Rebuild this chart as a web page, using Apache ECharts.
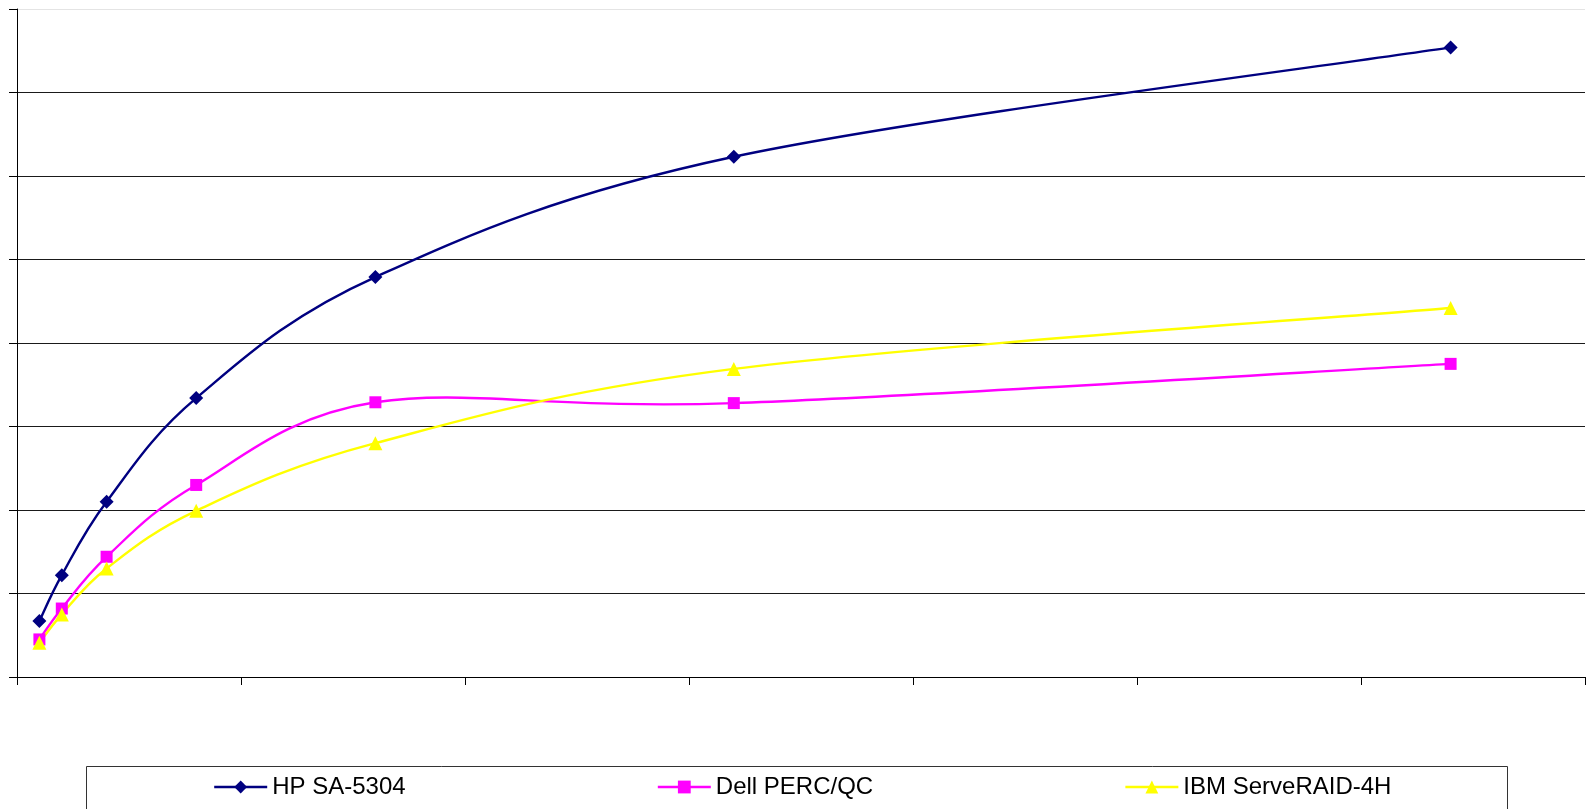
<!DOCTYPE html>
<html>
<head>
<meta charset="utf-8">
<title>RAID controller throughput</title>
<script src="https://cdn.jsdelivr.net/npm/echarts@6/dist/echarts.min.js"></script>
<style>
  html, body { margin: 0; padding: 0; background: #ffffff; }
  #chart { width: 1587px; height: 809px; }
</style>
</head>
<body>
<div id="chart"></div>
<script>
// Outstanding requests (x) and measured throughput for each controller
const loadLevels = [1, 2, 4, 8, 16, 32, 64];
const hpSA5304 = [0.67, 1.22, 2.10, 3.34, 4.79, 6.23, 7.54];
const dellPercQC = [0.45, 0.82, 1.44, 2.30, 3.29, 3.28, 3.75];
const ibmServeRAID4H = [0.41, 0.75, 1.30, 1.99, 2.80, 3.69, 4.42];

const seriesNames = ['HP SA-5304', 'Dell PERC/QC', 'IBM ServeRAID-4H'];
const seriesValues = [hpSA5304, dellPercQC, ibmServeRAID4H];
const seriesColors = ['#000080', '#ff00ff', '#ffff00'];
const seriesSymbols = ['diamond', 'rect', 'triangle'];
const seriesSymbolSizes = [14, 12, 14];
const LINE_WIDTH = 2.4;

const FONT = '"Liberation Sans", Arial, sans-serif';

const chart = echarts.init(document.getElementById('chart'), null, { renderer: 'canvas' });

// Horizontal gridlines: the topmost one is lighter than the rest
const gridColors = ['#1a1a1a', '#1a1a1a', '#1a1a1a', '#1a1a1a', '#1a1a1a', '#1a1a1a', '#1a1a1a', '#1a1a1a', '#e4e4e4'];

// Smoothed curve through the data points (cardinal spline, control points
// placed at one sixth of the neighbour-to-neighbour vector), computed from
// the pixel positions the axes give for each data point.
function makeCurveRenderer(values, color) {
  return function (params, api) {
    if (params.dataIndex !== 0) return null;
    const pts = loadLevels.map((x, j) => api.coord([x, values[j]]));
    const n = pts.length;
    let d = 'M' + pts[0][0] + ',' + pts[0][1];
    for (let i = 0; i < n - 1; i++) {
      const p0 = pts[Math.max(i - 1, 0)];
      const p1 = pts[i];
      const p2 = pts[i + 1];
      const p3 = pts[Math.min(i + 2, n - 1)];
      const c1x = p1[0] + (p2[0] - p0[0]) / 6;
      const c1y = p1[1] + (p2[1] - p0[1]) / 6;
      const c2x = p2[0] - (p3[0] - p1[0]) / 6;
      const c2y = p2[1] - (p3[1] - p1[1]) / 6;
      d += ' C' + c1x + ',' + c1y + ' ' + c2x + ',' + c2y + ' ' + p2[0] + ',' + p2[1];
    }
    return {
      type: 'path',
      shape: { pathData: d },
      style: { fill: 'none', stroke: color, lineWidth: LINE_WIDTH, lineJoin: 'round' },
      silent: true
    };
  };
}

const curveSeries = seriesValues.map((values, i) => ({
  type: 'custom',
  data: loadLevels.map((x, j) => [x, values[j]]),
  encode: { x: 0, y: 1 },
  renderItem: makeCurveRenderer(values, seriesColors[i]),
  clip: false,
  z: 1,
  silent: true
}));

const markerSeries = seriesNames.map((name, i) => ({
  name: name,
  type: 'line',
  data: loadLevels.map((x, j) => [x, seriesValues[i][j]]),
  symbol: seriesSymbols[i],
  symbolSize: seriesSymbolSizes[i],
  showAllSymbol: true,
  lineStyle: { color: seriesColors[i], width: LINE_WIDTH, opacity: 0 },
  itemStyle: { color: seriesColors[i], borderWidth: 0 },
  emphasis: { disabled: true },
  z: 3
}));

chart.setOption({
  animation: false,
  backgroundColor: '#ffffff',
  grid: { left: 17, right: 2, top: 9, bottom: 132, containLabel: false },
  xAxis: {
    type: 'value',
    min: 0, max: 70, interval: 10,
    axisLine: { show: true, lineStyle: { color: '#000000', width: 1 } },
    axisTick: { show: true, inside: false, length: 8, lineStyle: { color: '#000000' } },
    axisLabel: { show: false },
    splitLine: { show: false }
  },
  yAxis: {
    type: 'value',
    min: 0, max: 8, interval: 1,
    axisLine: { show: true, lineStyle: { color: '#000000', width: 1 } },
    axisTick: { show: true, inside: false, length: 8, lineStyle: { color: '#000000' } },
    axisLabel: { show: false },
    splitLine: { show: true, lineStyle: { color: gridColors, width: 1 } }
  },
  legend: {
    left: 213, top: 775,
    padding: 0,
    itemWidth: 53, itemHeight: 16, itemGap: 251,
    textStyle: { fontFamily: FONT, fontSize: 24, color: '#000000', lineHeight: 24 },
    data: seriesNames.map((name, i) => ({
      name: name,
      lineStyle: { color: seriesColors[i], width: LINE_WIDTH, opacity: 1 }
    }))
  },
  graphic: [{
    type: 'rect',
    shape: { x: 86.5, y: 766.5, width: 1421, height: 60 },
    style: { fill: 'none', stroke: '#333333', lineWidth: 1 },
    z: -1
  }],
  series: curveSeries.concat(markerSeries)
});
</script>
</body>
</html>
